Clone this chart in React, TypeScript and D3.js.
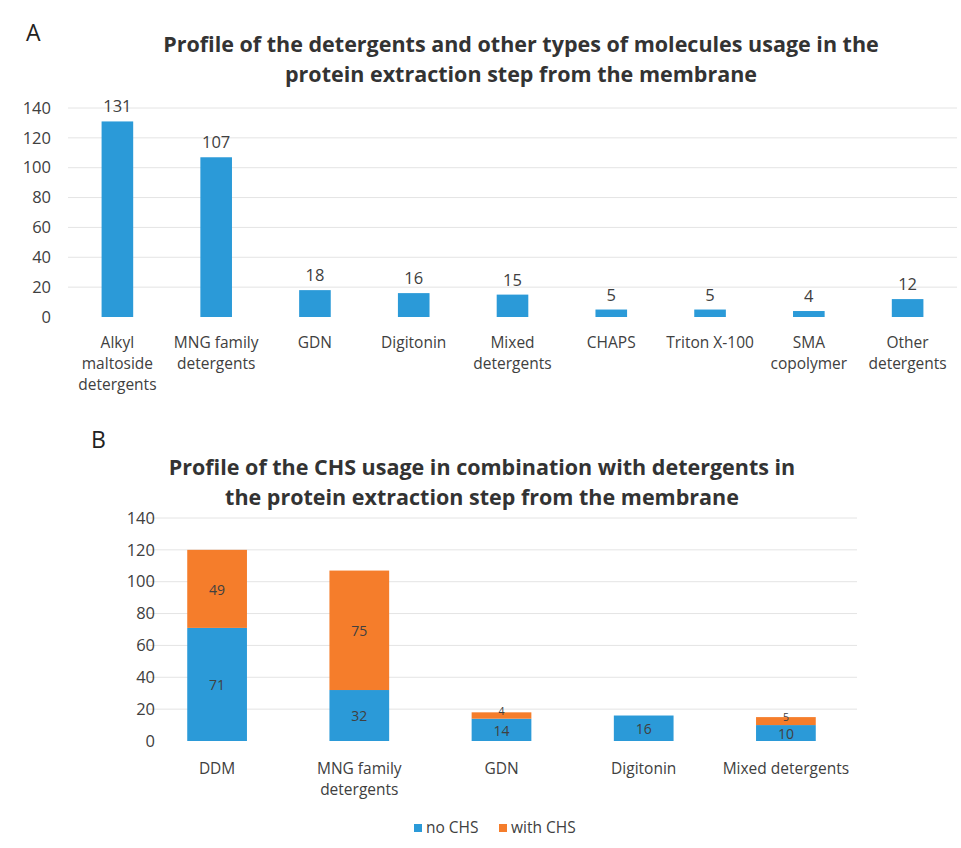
import React from 'react';
import * as d3 from 'd3';

// panel A
const catsA = [
  ['Alkyl', 'maltoside', 'detergents'],
  ['MNG family', 'detergents'],
  ['GDN'],
  ['Digitonin'],
  ['Mixed', 'detergents'],
  ['CHAPS'],
  ['Triton X-100'],
  ['SMA', 'copolymer'],
  ['Other', 'detergents'],
];
const valuesA = [131, 107, 18, 16, 15, 5, 5, 4, 12];

// panel B
const catsB = [['DDM'], ['MNG family', 'detergents'], ['GDN'], ['Digitonin'], ['Mixed detergents']];
const noCHS = [71, 32, 14, 16, 10];
const withCHS = [49, 75, 4, 0, 5];
const seriesB = ['no CHS', 'with CHS'];

const ticks = [0, 20, 40, 60, 80, 100, 120, 140];

const BLUE = '#2b9ad8';
const ORANGE = '#f57d2b';
const TXT = '#404040';
const FONT = '"Open Sans", "Noto Sans", sans-serif';

const App = () => {
  const width = 961;
  const height = 848;

  const xA = d3.scaleBand<number>().domain(d3.range(valuesA.length)).range([68, 957]).paddingInner(0.68).paddingOuter(0.34);
  const yA = d3.scaleLinear().domain([0, 140]).range([317, 108]);

  const xB = d3.scaleBand<number>().domain(d3.range(noCHS.length)).range([146, 857]).paddingInner(0.58).paddingOuter(0.29);
  const yB = d3.scaleLinear().domain([0, 140]).range([741, 518]);

  const stackData = noCHS.map((v, i) => ({ i, 'no CHS': v, 'with CHS': withCHS[i] }));
  const stacked = d3.stack<any>().keys(seriesB)(stackData);
  const color = d3.scaleOrdinal<string>().domain(seriesB).range([BLUE, ORANGE]);

  return (
    <svg width={width} height={height} style={{ display: 'block', position: 'absolute', left: 0, top: 0, background: '#fff' }} fontFamily={FONT}>
      <rect width={width} height={height} fill="#fff" />

      {/* ---------- A ---------- */}
      <text x={26} y={41} fontSize={23} fill="#222">A</text>
      <text x={521} y={52} fontSize={21.5} fontWeight="bold" fill="#333" textAnchor="middle">
        Profile of the detergents and other types of molecules usage in the
      </text>
      <text x={521} y={82} fontSize={21.5} fontWeight="bold" fill="#333" textAnchor="middle">
        protein extraction step from the membrane
      </text>
      {ticks.map(t => (
        <g key={'ga' + t}>
          {t > 0 && <line x1={68} x2={957} y1={yA(t)} y2={yA(t)} stroke="#e4e4e4" strokeWidth={1} />}
          <text x={51} y={yA(t)} dy="0.35em" fontSize={16.5} fill={TXT} textAnchor="end">{t}</text>
        </g>
      ))}
      {valuesA.map((v, i) => (
        <g key={'ba' + i}>
          <rect x={xA(i)} y={yA(v)} width={xA.bandwidth()} height={yA(0) - yA(v)} fill={BLUE} />
          <text x={xA(i)! + xA.bandwidth() / 2} y={yA(v) - 9} fontSize={16.5} fill={TXT} textAnchor="middle">{v}</text>
          {catsA[i].map((l, k) => (
            <text key={k} x={xA(i)! + xA.bandwidth() / 2} y={348 + k * 21} fontSize={15.5} fill={TXT} textAnchor="middle">{l}</text>
          ))}
        </g>
      ))}

      {/* ---------- B ---------- */}
      <text x={91} y={448} fontSize={23} fill="#222">B</text>
      <text x={482} y={475} fontSize={21.5} fontWeight="bold" fill="#333" textAnchor="middle">
        Profile of the CHS usage in combination with detergents in
      </text>
      <text x={482} y={505} fontSize={21.5} fontWeight="bold" fill="#333" textAnchor="middle">
        the protein extraction step from the membrane
      </text>
      {ticks.map(t => (
        <g key={'gb' + t}>
          {t > 0 && <line x1={146} x2={857} y1={yB(t)} y2={yB(t)} stroke="#e4e4e4" strokeWidth={1} />}
          <text x={155} y={yB(t)} dy="0.35em" fontSize={16.5} fill={TXT} textAnchor="end">{t}</text>
        </g>
      ))}
      {stacked.map(s => (
        <g key={s.key} fill={color(s.key)}>
          {s.map((d, i) => {
            const v = d[1] - d[0];
            if (v <= 0) return null;
            const small = s.key === 'with CHS' && v < 8;
            return (
              <g key={i}>
                <rect x={xB(i)} y={yB(d[1])} width={xB.bandwidth()} height={yB(d[0]) - yB(d[1])} />
                <text x={xB(i)! + xB.bandwidth() / 2} y={(yB(d[0]) + yB(d[1])) / 2 + (small ? -4 : 1)} dy="0.35em" fontSize={small ? 10.5 : 14} fill={TXT} textAnchor="middle">
                  {v}
                </text>
              </g>
            );
          })}
        </g>
      ))}
      {catsB.map((c, i) => c.map((l, k) => (
        <text key={'cb' + i + k} x={xB(i)! + xB.bandwidth() / 2} y={774 + k * 21} fontSize={15.5} fill={TXT} textAnchor="middle">{l}</text>
      )))}

      {/* legend */}
      {seriesB.map((s, i) => {
        const lx = i === 0 ? 414 : 499;
        return (
          <g key={'lg' + s}>
            <rect x={lx} y={824} width={8} height={8} fill={color(s)} />
            <text x={lx + 12} y={828} dy="0.35em" fontSize={15.5} fill={TXT}>{s}</text>
          </g>
        );
      })}
    </svg>
  );
};

export default App;
